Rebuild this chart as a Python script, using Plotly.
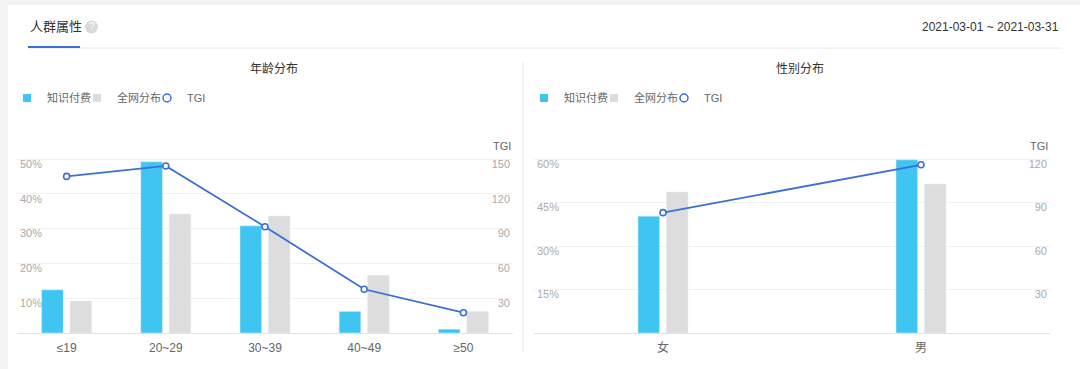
import plotly.graph_objects as go

# ---------------- data ----------------
age_categories = ['≤19', '20~29', '30~39', '40~49', '≥50']
age_paid = [12.4, 49.2, 30.8, 6.2, 1.1]        # 知识付费 (%)
age_all = [9.2, 34.2, 33.6, 16.6, 6.2]         # 全网分布 (%)
age_tgi = [135, 144, 91.6, 37.7, 17.5]         # TGI

gender_categories = ['女', '男']
gender_paid = [40.3, 59.7]
gender_all = [48.6, 51.4]
gender_tgi = [83, 116]

age_pct_ticks = [10, 20, 30, 40, 50]
age_tgi_ticks = [30, 60, 90, 120, 150]
gender_pct_ticks = [15, 30, 45, 60]
gender_tgi_ticks = [30, 60, 90, 120]

series_names = ['知识付费', '全网分布', 'TGI']

# ---------------- style ----------------
W, H = 1080, 369
BLUE = '#3ec5f2'
GRAY = '#dddddd'
LINE = '#3a6fd5'
FONT = 'Helvetica Neue, Liberation Sans, Arial, Noto Sans CJK SC, sans-serif'


def fx(px):
    return px / W


def fy(py):
    return 1 - py / H


BASE_Y, TOP_Y, DOM_TOP = 333, 159, 145
L_X0, L_X1 = 17, 513
R_X0, R_X1 = 534, 1050

BAR_PX = 21.6
GAP_PX = 3.4


def bar_geom(cat_px):
    w = BAR_PX / cat_px
    return -(BAR_PX + GAP_PX) / cat_px, GAP_PX / cat_px, w


def extended_max(top_val):
    # axis range reaching above the top tick so its inside label stays visible
    return top_val * (BASE_Y - DOM_TOP) / (BASE_Y - TOP_Y)


fig = go.Figure()

# left panel
lcat = (L_X1 - L_X0) / len(age_categories)
o1, o2, bw = bar_geom(lcat)
fig.add_trace(go.Bar(x=age_categories, y=age_paid, name=series_names[0], marker_color=BLUE,
                     width=bw, offset=o1, xaxis='x', yaxis='y', showlegend=False))
fig.add_trace(go.Bar(x=age_categories, y=age_all, name=series_names[1], marker_color=GRAY,
                     width=bw, offset=o2, xaxis='x', yaxis='y', showlegend=False))
fig.add_trace(go.Scatter(x=age_categories, y=age_tgi, name=series_names[2], mode='lines+markers',
                         line=dict(color=LINE, width=1.8),
                         marker=dict(size=6, color='white', line=dict(color=LINE, width=1.6)),
                         xaxis='x', yaxis='y2', showlegend=False))

# right panel
rcat = (R_X1 - R_X0) / len(gender_categories)
p1, p2, bw2 = bar_geom(rcat)
fig.add_trace(go.Bar(x=gender_categories, y=gender_paid, name=series_names[0], marker_color=BLUE,
                     width=bw2, offset=p1, xaxis='x2', yaxis='y3', showlegend=False))
fig.add_trace(go.Bar(x=gender_categories, y=gender_all, name=series_names[1], marker_color=GRAY,
                     width=bw2, offset=p2, xaxis='x2', yaxis='y3', showlegend=False))
fig.add_trace(go.Scatter(x=gender_categories, y=gender_tgi, name=series_names[2], mode='lines+markers',
                         line=dict(color=LINE, width=1.8),
                         marker=dict(size=6, color='white', line=dict(color=LINE, width=1.6)),
                         xaxis='x2', yaxis='y4', showlegend=False))

# legend entries
for lg in ['legend', 'legend2']:
    fig.add_trace(go.Scatter(x=[None], y=[None], mode='markers', name=series_names[0], legend=lg,
                             marker=dict(symbol='square', size=8, color=BLUE)))
    fig.add_trace(go.Scatter(x=[None], y=[None], mode='markers', name=series_names[1], legend=lg,
                             marker=dict(symbol='square', size=8, color=GRAY)))
    fig.add_trace(go.Scatter(x=[None], y=[None], mode='markers', name=series_names[2], legend=lg,
                             marker=dict(symbol='circle', size=8, color='white',
                                         line=dict(color=LINE, width=1.5))))

tick_font = dict(size=11, color='#aaaaaa', family=FONT)
cat_font = dict(size=12, color='#666666', family=FONT)
ydom = [fy(BASE_Y), fy(DOM_TOP)]


def pct_axis(ticks, top, anchor):
    return dict(domain=ydom, range=[0, extended_max(top)], tickvals=ticks,
                ticktext=[f'{t}%' for t in ticks],
                ticklabelposition='inside', ticks='', tickfont=tick_font, ticklabelshift=5,
                showgrid=True, gridcolor='#f1f1f1', gridwidth=1, zeroline=False,
                showline=False, anchor=anchor, fixedrange=True)


def tgi_axis(ticks, top, anchor, overlay):
    return dict(domain=ydom, range=[0, extended_max(top)], tickvals=ticks,
                ticktext=[str(t) for t in ticks],
                ticklabelposition='inside', ticks='', tickfont=tick_font, ticklabelshift=5,
                showgrid=False, zeroline=False, showline=False, side='right',
                anchor=anchor, overlaying=overlay, fixedrange=True)


def cat_axis(domain, n):
    return dict(domain=domain, type='category', range=[-0.5, n - 0.5], ticks='',
                tickfont=cat_font, showline=True, linecolor='#e3e3e3', linewidth=1,
                ticklabelstandoff=4,
                showgrid=False, zeroline=False, fixedrange=True)


legend_style = dict(orientation='h', yanchor='middle', xanchor='left', y=fy(98),
                    font=dict(size=11, color='#666666', family=FONT), bgcolor='rgba(0,0,0,0)',
                    itemwidth=30, entrywidth=25, entrywidthmode='pixels', itemclick=False,
                    itemdoubleclick=False)

fig.update_layout(
    width=W, height=H,
    margin=dict(l=0, r=0, t=0, b=0),
    paper_bgcolor='#f3f3f3', plot_bgcolor='white',
    barmode='overlay',
    font=dict(family=FONT, color='#333333'),
    xaxis=cat_axis([fx(L_X0), fx(L_X1)], len(age_categories)) | dict(anchor='y'),
    xaxis2=cat_axis([fx(R_X0), fx(R_X1)], len(gender_categories)) | dict(anchor='y3'),
    yaxis=pct_axis(age_pct_ticks, 50, 'x'),
    yaxis2=tgi_axis(age_tgi_ticks, 150, 'x', 'y'),
    yaxis3=pct_axis(gender_pct_ticks, 60, 'x2'),
    yaxis4=tgi_axis(gender_tgi_ticks, 120, 'x2', 'y3'),
    legend=legend_style | dict(x=fx(7)),
    legend2=legend_style | dict(x=fx(524)),
    showlegend=True,
)

# card and decoration
shapes = [
    dict(type='rect', xref='paper', yref='paper', x0=fx(8), x1=fx(1080), y0=fy(369), y1=fy(5),
         fillcolor='white', line=dict(width=0), layer='below'),
    dict(type='line', xref='paper', yref='paper', x0=fx(28), x1=fx(1062), y0=fy(48), y1=fy(48),
         line=dict(color='#e8e8e8', width=1)),
    dict(type='line', xref='paper', yref='paper', x0=fx(28), x1=fx(80), y0=fy(47), y1=fy(47),
         line=dict(color='#3c6fd6', width=2)),
    dict(type='circle', xref='paper', yref='paper', x0=fx(85), x1=fx(98), y0=fy(33.5), y1=fy(20.5),
         fillcolor='#d9d9d9', line=dict(width=0)),
    dict(type='line', xref='paper', yref='paper', x0=fx(523), x1=fx(523), y0=fy(352), y1=fy(62),
         line=dict(color='#e8e8e8', width=1)),
]
fig.update_layout(shapes=shapes)

annotations = [
    dict(text='人群属性', x=fx(28), y=fy(27), xanchor='left', yanchor='middle',
         font=dict(size=13, color='#333333')),
    dict(text='?', x=fx(91.5), y=fy(27), xanchor='center', yanchor='middle',
         font=dict(size=10, color='white')),
    dict(text='2021-03-01 ~ 2021-03-31', x=fx(1061), y=fy(27), xanchor='right', yanchor='middle',
         font=dict(size=12, color='#333333')),
    dict(text='年龄分布', x=fx(274), y=fy(69), xanchor='center', yanchor='middle',
         font=dict(size=12, color='#333333')),
    dict(text='性别分布', x=fx(800), y=fy(69), xanchor='center', yanchor='middle',
         font=dict(size=12, color='#333333')),
    dict(text='TGI', x=fx(L_X1), y=fy(146), xanchor='right', yanchor='middle',
         font=dict(size=11, color='#666666')),
    dict(text='TGI', x=fx(R_X1), y=fy(146), xanchor='right', yanchor='middle',
         font=dict(size=11, color='#666666')),
]
for a in annotations:
    a.update(xref='paper', yref='paper', showarrow=False)
fig.update_layout(annotations=annotations)

fig.write_html('out.html', config={'displayModeBar': False},
               post_script="document.body.style.margin='0';document.body.style.overflow='hidden';")
